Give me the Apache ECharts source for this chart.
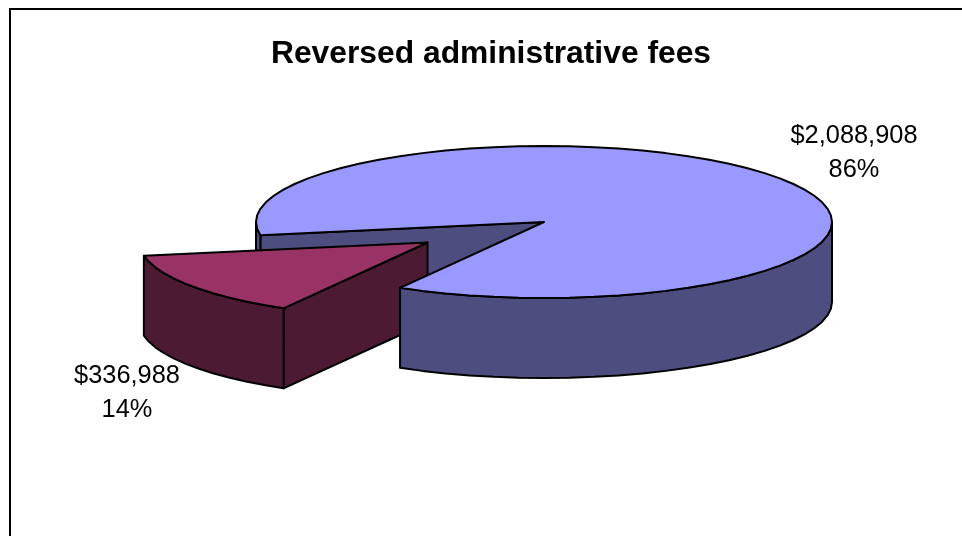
<!DOCTYPE html>
<html>
<head>
<meta charset="utf-8">
<style>html,body{margin:0;padding:0;background:#fff}#chart{width:962px;height:536px}</style>
<script src="https://cdn.jsdelivr.net/npm/echarts@6/dist/echarts.min.js"></script>
</head>
<body>
<div id="chart"></div>
<script>
// Fee amounts per slice
const titleText = 'Reversed administrative fees';
const feeAmounts = [2088908, 336988];
const explodedSlice = 1;

// Projection of the tilted pie on the page
const pie = { cx: 544, cy: 222, rx: 288, ry: 76, depth: 80, firstAngle: 170, step: 5 };
const explodeShift = { x: -116.5, y: 20.5 };
const sliceStyles = [
  { top: '#9999ff', wall: '#4d4d80', label: [854, 153] },
  { top: '#993366', wall: '#4d1a33', label: [127, 393] }
];
const edge = { stroke: '#000', lineWidth: 2, lineJoin: 'round' };
const total = feeAmounts.reduce((a, b) => a + b, 0);

function money(v) {
  return '$' + String(v).replace(/\B(?=(\d{3})+$)/g, ',');
}

function rimPoint(deg, ox, oy, drop) {
  const t = deg * Math.PI / 180;
  return [pie.cx + ox + pie.rx * Math.cos(t), pie.cy + oy + drop + pie.ry * Math.sin(t)];
}

function arc(a0, a1, ox, oy, drop) {
  const pts = [];
  const n = Math.max(1, Math.ceil((a1 - a0) / pie.step));
  for (let i = 0; i <= n; i++) pts.push(rimPoint(a0 + (a1 - a0) * i / n, ox, oy, drop));
  return pts;
}

function poly(points, fill, z2) {
  return { type: 'polygon', z2, shape: { points }, style: Object.assign({ fill }, edge) };
}

function renderSlice(params, api) {
  const i = params.dataIndex;
  const value = api.value(0);
  let start = pie.firstAngle;
  for (let k = 0; k < i; k++) start += feeAmounts[k] / total * 360;
  const end = start + value / total * 360;
  const exploded = i === explodedSlice;
  const ox = exploded ? explodeShift.x : 0;
  const oy = exploded ? explodeShift.y : 0;
  const st = sliceStyles[i];
  const hub = [pie.cx + ox, pie.cy + oy];
  const hubLow = [hub[0], hub[1] + pie.depth];
  const children = [];
  const base = exploded ? 10 : 1;

  // Cut faces that look toward the viewer
  [[start, -1], [end, 1]].forEach(([a, side]) => {
    if (side * Math.cos(a * Math.PI / 180) > 0) {
      children.push(poly([hub, rimPoint(a, ox, oy, 0), rimPoint(a, ox, oy, pie.depth), hubLow], st.wall, base));
    }
  });

  // Outer wall: only the near half of the rim, i.e. angles 0-180 and 360-540
  [[0, 180], [360, 540]].forEach(([lo, hi]) => {
    const a0 = Math.max(start, lo), a1 = Math.min(end, hi);
    if (a1 <= a0) return;
    const upper = arc(a0, a1, ox, oy, 0);
    const lower = arc(a0, a1, ox, oy, pie.depth).reverse();
    const midX = rimPoint((a0 + a1) / 2, ox, oy, 0)[0];
    const behind = !exploded && midX < pie.cx + explodeShift.x;
    children.push(poly(upper.concat(lower), st.wall, behind ? 2 : base + 10));
  });

  // Top face
  children.push(poly([hub].concat(arc(start, end, ox, oy, 0)), st.top, base + 11));

  // Value and share label
  children.push({
    type: 'text', z2: 40,
    style: {
      x: st.label[0], y: st.label[1],
      text: money(value) + '\n' + Math.round(value / total * 100) + '%',
      align: 'center', verticalAlign: 'middle',
      fontFamily: 'Liberation Sans', fontSize: 25.4, lineHeight: 34, fill: '#000'
    }
  });
  return { type: 'group', children };
}

const chart = echarts.init(document.getElementById('chart'), null, { renderer: 'canvas' });
chart.setOption({
  animation: false,
  backgroundColor: '#fff',
  title: {
    text: titleText, left: 491, top: 38, padding: 0, textAlign: 'center',
    textStyle: { fontFamily: 'Liberation Sans', fontWeight: 'bold', fontSize: 31.8, color: '#000' }
  },
  // Chart area frame
  graphic: [
    { type: 'polyline', silent: true, shape: { points: [[10, 536], [10, 9], [962, 9]] },
      style: { stroke: '#000', lineWidth: 2, fill: null } }
  ],
  series: [{
    type: 'custom', coordinateSystem: 'none', silent: true,
    data: feeAmounts.map(v => [v]),
    renderItem: renderSlice
  }]
});
</script>
</body>
</html>
